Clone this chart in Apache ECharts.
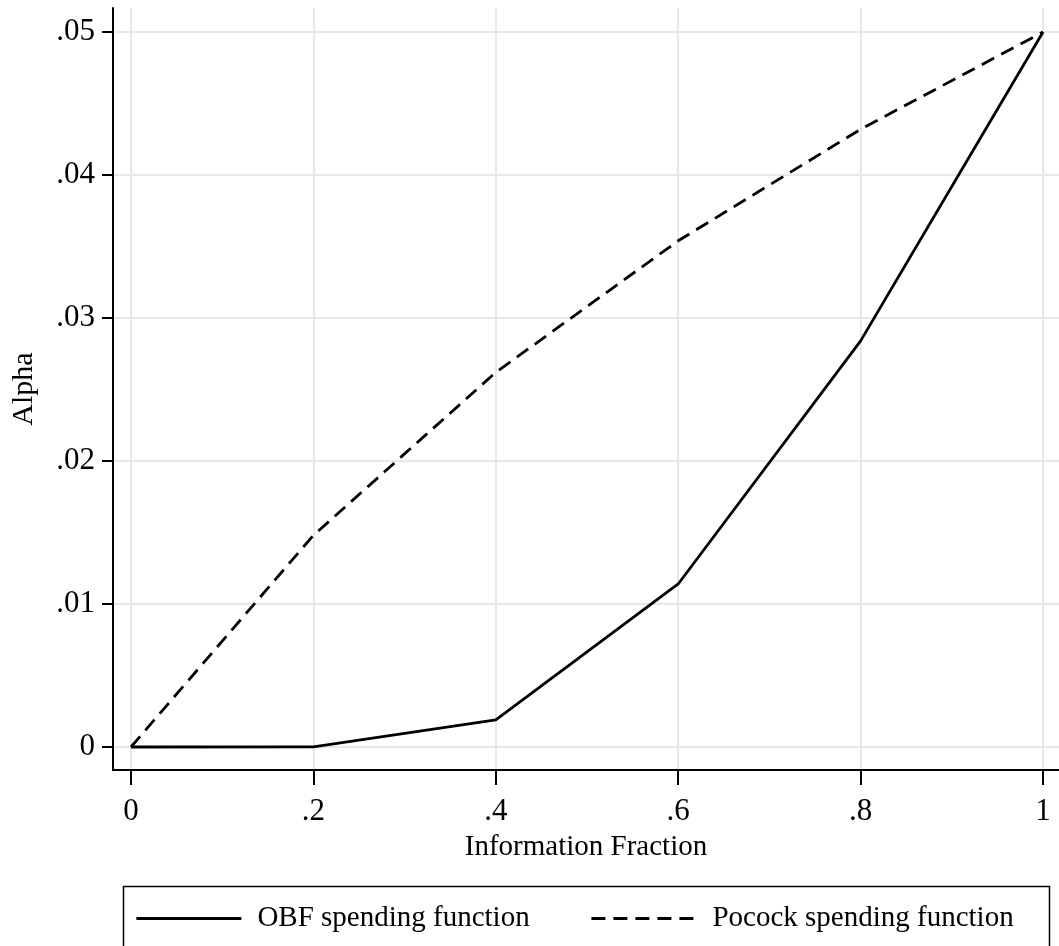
<!DOCTYPE html>
<html>
<head>
<meta charset="utf-8">
<title>Alpha spending functions</title>
<script src="https://cdn.jsdelivr.net/npm/echarts@6/dist/echarts.min.js"></script>
<style>
  html, body { margin: 0; padding: 0; background: #fff; }
  #chart { width: 1059px; height: 946px; }
</style>
</head>
<body>
<div id="chart"></div>
<script>
  // values
  var fractions = [0, 0.2, 0.4, 0.6, 0.8, 1];
  var obfAlpha = [0, 0.00001, 0.0019, 0.0114, 0.0284, 0.05];
  var pocockAlpha = [0, 0.0148, 0.0262, 0.0354, 0.0432, 0.05];
  var xTicks = [0, 0.2, 0.4, 0.6, 0.8, 1];
  var yTicks = [0, 0.01, 0.02, 0.03, 0.04, 0.05];
  var seriesNames = ['OBF spending function', 'Pocock spending function'];

  var font = "'Liberation Serif', 'Times New Roman', serif";

  // stata style numbers: .2 instead of 0.2
  function stataNum(v) {
    if (v === 0) return '0';
    var s = String(Math.round(v * 1000) / 1000);
    return s.replace(/^0\./, '.');
  }

  function pairs(xs, ys) {
    return xs.map(function (x, i) { return [x, ys[i]]; });
  }

  var myChart = echarts.init(document.getElementById('chart'));
  var option = {
    animation: false,
    backgroundColor: '#fff',
    grid: { left: 113, right: 0, top: 8, bottom: 176, containLabel: false },
    xAxis: {
      type: 'value',
      min: -0.0197,
      max: 1.0175,
      name: 'Information Fraction',
      nameLocation: 'middle',
      nameGap: 63,
      nameTextStyle: { color: '#000', fontFamily: font, fontSize: 29 },
      axisLine: { show: true, onZero: false, lineStyle: { color: '#000', width: 2 } },
      axisTick: { show: true, length: 15, customValues: xTicks, lineStyle: { color: '#000', width: 2 } },
      axisLabel: { customValues: xTicks, margin: 26, color: '#000', fontFamily: font, fontSize: 31, formatter: stataNum },
      splitLine: { show: true, lineStyle: { color: '#e8e8e8', width: 2 } }
    },
    yAxis: {
      type: 'value',
      min: -0.00161,
      max: 0.05168,
      name: 'Alpha',
      nameLocation: 'middle',
      nameGap: 74,
      nameTextStyle: { color: '#000', fontFamily: font, fontSize: 30 },
      axisLine: { show: true, onZero: false, lineStyle: { color: '#000', width: 2 } },
      axisTick: { show: true, length: 11, customValues: yTicks, lineStyle: { color: '#000', width: 2 } },
      axisLabel: { customValues: yTicks, margin: 18, color: '#000', fontFamily: font, fontSize: 31, formatter: stataNum },
      splitLine: { show: true, lineStyle: { color: '#e8e8e8', width: 2 } }
    },
    legend: [{
      data: [seriesNames[0]],
      left: 130,
      top: 899,
      itemWidth: 105,
      itemHeight: 14,
      itemStyle: { opacity: 0 },
      lineStyle: { width: 2.8, type: 'solid' },
      textStyle: { color: '#000', fontFamily: font, fontSize: 29, padding: [0, 0, 0, 11] }
    }, {
      data: [seriesNames[1]],
      left: 585,
      top: 899,
      itemWidth: 107,
      itemHeight: 14,
      itemStyle: { opacity: 0 },
      lineStyle: { width: 2.8, type: [14, 8] },
      textStyle: { color: '#000', fontFamily: font, fontSize: 29, padding: [0, 0, 0, 9] }
    }],
    graphic: [{
      type: 'rect',
      shape: { x: 123.5, y: 886.5, width: 926, height: 80 },
      style: { fill: 'none', stroke: '#000', lineWidth: 1.5 },
      silent: true
    }],
    series: [{
      name: seriesNames[0],
      type: 'line',
      data: pairs(fractions, obfAlpha),
      symbol: 'none',
      lineStyle: { color: '#000', width: 2.8, type: 'solid' },
      itemStyle: { color: '#000' }
    }, {
      name: seriesNames[1],
      type: 'line',
      data: pairs(fractions, pocockAlpha),
      symbol: 'none',
      lineStyle: { color: '#000', width: 2.8, type: [14, 8] },
      itemStyle: { color: '#000' }
    }]
  };
  myChart.setOption(option);
</script>
</body>
</html>
